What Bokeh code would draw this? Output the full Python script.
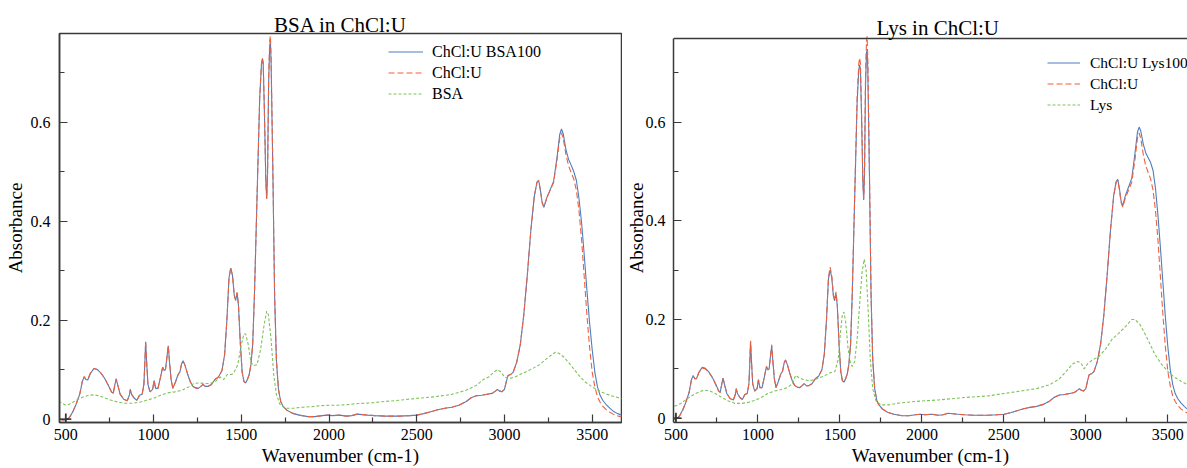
from bokeh.plotting import figure
from bokeh.layouts import row
from bokeh.models import FixedTicker, Legend, LegendItem, Range1d, Span
from bokeh.embed import file_html
from bokeh.resources import INLINE

# ---------------- data ----------------
wn_main = [460, 480, 500, 520, 540, 560, 580, 595, 605, 615, 625, 640, 660, 680, 700, 720, 740, 760, 770, 780,
           787, 795, 810, 830, 850, 862, 868, 875, 890, 905, 920, 935, 945, 950, 955, 960, 968, 980, 995, 1003,
           1012, 1025, 1040, 1052, 1060, 1068, 1078, 1084, 1090, 1100, 1110, 1125, 1140, 1150, 1160, 1168, 1180, 1195, 1210, 1225,
           1240, 1255, 1270, 1282, 1295, 1310, 1330, 1350, 1370, 1390, 1405, 1418, 1430, 1440, 1450, 1460, 1468, 1476, 1484, 1495,
           1505, 1515, 1525, 1535, 1545, 1555, 1565, 1575, 1590, 1605, 1615, 1620, 1625, 1632, 1640, 1645, 1650, 1656, 1662, 1666,
           1670, 1680, 1690, 1700, 1712, 1725, 1740, 1760, 1790, 1830, 1880, 1920, 1960, 1990, 2020, 2060, 2100, 2130, 2160, 2190,
           2220, 2260, 2320, 2400, 2460, 2500, 2540, 2580, 2620, 2660, 2700, 2740, 2780, 2810, 2840, 2870, 2900, 2930, 2950, 2960,
           2970, 2985, 3000, 3010, 3020, 3035, 3050, 3070, 3090, 3110, 3130, 3150, 3170, 3185, 3195, 3205, 3215, 3225, 3240, 3260,
           3280, 3300, 3315, 3325, 3335, 3350, 3365, 3380, 3395, 3410, 3425, 3440, 3455, 3470, 3485, 3500, 3515, 3530, 3545, 3560,
           3580, 3600, 3620, 3640, 3660, 3680, 3700]

chclu = [0.001, -0.002, -0.002, 0.003, 0.015, 0.032, 0.052, 0.078, 0.086, 0.080, 0.080, 0.093, 0.102, 0.100, 0.093, 0.083, 0.070, 0.055, 0.052, 0.070,
         0.081, 0.070, 0.050, 0.040, 0.037, 0.048, 0.060, 0.050, 0.042, 0.038, 0.048, 0.050, 0.070, 0.110, 0.157, 0.120, 0.070, 0.055, 0.060, 0.078,
         0.062, 0.062, 0.085, 0.105, 0.098, 0.100, 0.130, 0.149, 0.120, 0.080, 0.062, 0.075, 0.090, 0.095, 0.112, 0.118, 0.108, 0.090, 0.075, 0.066,
         0.063, 0.062, 0.066, 0.070, 0.066, 0.066, 0.070, 0.080, 0.085, 0.098, 0.130, 0.200, 0.285, 0.306, 0.290, 0.250, 0.240, 0.256, 0.230, 0.150,
         0.095, 0.076, 0.073, 0.080, 0.090, 0.110, 0.150, 0.250, 0.450, 0.650, 0.718, 0.730, 0.720, 0.620, 0.480, 0.445, 0.500, 0.690, 0.765, 0.774,
         0.730, 0.505, 0.250, 0.120, 0.060, 0.035, 0.025, 0.018, 0.012, 0.008, 0.005, 0.005, 0.007, 0.008, 0.007, 0.008, 0.006, 0.007, 0.010, 0.009,
         0.008, 0.007, 0.006, 0.006, 0.007, 0.008, 0.011, 0.015, 0.019, 0.022, 0.024, 0.028, 0.035, 0.043, 0.047, 0.048, 0.050, 0.052, 0.057, 0.060,
         0.057, 0.055, 0.060, 0.075, 0.088, 0.090, 0.095, 0.115, 0.150, 0.210, 0.290, 0.380, 0.450, 0.478, 0.482, 0.462, 0.437, 0.428, 0.445, 0.462,
         0.478, 0.525, 0.568, 0.578, 0.567, 0.535, 0.512, 0.498, 0.485, 0.462, 0.420, 0.360, 0.285, 0.210, 0.145, 0.095, 0.065, 0.045, 0.034, 0.026,
         0.019, 0.014, 0.010, 0.007, 0.005, 0.004, 0.003]

bsa_mix = [0.001, -0.002, -0.002, 0.003, 0.015, 0.031, 0.051, 0.077, 0.085, 0.080, 0.079, 0.092, 0.102, 0.100, 0.093, 0.083, 0.070, 0.055, 0.052, 0.070,
           0.081, 0.070, 0.050, 0.040, 0.037, 0.048, 0.060, 0.050, 0.042, 0.038, 0.048, 0.050, 0.070, 0.110, 0.156, 0.120, 0.070, 0.055, 0.060, 0.078,
           0.062, 0.062, 0.085, 0.105, 0.098, 0.100, 0.130, 0.148, 0.120, 0.080, 0.062, 0.075, 0.090, 0.095, 0.112, 0.118, 0.108, 0.090, 0.075, 0.066,
           0.063, 0.062, 0.066, 0.070, 0.066, 0.066, 0.070, 0.080, 0.085, 0.098, 0.130, 0.200, 0.285, 0.305, 0.290, 0.250, 0.240, 0.255, 0.230, 0.150,
           0.095, 0.076, 0.073, 0.080, 0.090, 0.110, 0.150, 0.250, 0.450, 0.648, 0.715, 0.728, 0.718, 0.618, 0.480, 0.445, 0.500, 0.680, 0.755, 0.762,
           0.720, 0.500, 0.250, 0.120, 0.060, 0.035, 0.025, 0.018, 0.012, 0.008, 0.005, 0.005, 0.007, 0.008, 0.007, 0.008, 0.006, 0.007, 0.010, 0.009,
           0.008, 0.007, 0.006, 0.006, 0.007, 0.008, 0.011, 0.015, 0.019, 0.022, 0.024, 0.028, 0.035, 0.043, 0.047, 0.048, 0.050, 0.052, 0.057, 0.060,
           0.057, 0.055, 0.060, 0.075, 0.088, 0.090, 0.095, 0.115, 0.150, 0.210, 0.290, 0.380, 0.450, 0.478, 0.482, 0.462, 0.437, 0.428, 0.446, 0.463,
           0.480, 0.530, 0.575, 0.586, 0.576, 0.545, 0.525, 0.513, 0.500, 0.482, 0.445, 0.395, 0.330, 0.260, 0.195, 0.140, 0.095, 0.065, 0.048, 0.038,
           0.029, 0.022, 0.016, 0.012, 0.009, 0.007, 0.006]

lys_mix = [0.002, -0.001, -0.002, 0.004, 0.016, 0.032, 0.052, 0.079, 0.086, 0.080, 0.080, 0.093, 0.103, 0.101, 0.094, 0.084, 0.071, 0.056, 0.053, 0.070,
           0.081, 0.070, 0.050, 0.040, 0.037, 0.048, 0.060, 0.050, 0.042, 0.038, 0.048, 0.050, 0.070, 0.110, 0.156, 0.120, 0.070, 0.055, 0.060, 0.078,
           0.062, 0.062, 0.085, 0.105, 0.098, 0.100, 0.130, 0.146, 0.120, 0.080, 0.062, 0.075, 0.090, 0.095, 0.112, 0.118, 0.108, 0.090, 0.075, 0.066,
           0.063, 0.062, 0.066, 0.070, 0.066, 0.066, 0.070, 0.080, 0.085, 0.098, 0.130, 0.198, 0.282, 0.300, 0.286, 0.248, 0.238, 0.253, 0.228, 0.150,
           0.095, 0.076, 0.073, 0.080, 0.090, 0.110, 0.150, 0.248, 0.445, 0.640, 0.705, 0.716, 0.708, 0.612, 0.478, 0.442, 0.495, 0.670, 0.740, 0.748,
           0.708, 0.495, 0.248, 0.120, 0.060, 0.036, 0.026, 0.019, 0.012, 0.008, 0.005, 0.005, 0.007, 0.008, 0.007, 0.008, 0.006, 0.007, 0.010, 0.009,
           0.008, 0.007, 0.006, 0.006, 0.007, 0.008, 0.011, 0.015, 0.019, 0.022, 0.024, 0.028, 0.035, 0.043, 0.047, 0.048, 0.050, 0.052, 0.057, 0.060,
           0.057, 0.055, 0.060, 0.075, 0.088, 0.090, 0.095, 0.115, 0.150, 0.210, 0.290, 0.380, 0.452, 0.480, 0.484, 0.465, 0.440, 0.430, 0.450, 0.468,
           0.486, 0.538, 0.580, 0.590, 0.582, 0.556, 0.538, 0.528, 0.518, 0.502, 0.465, 0.410, 0.345, 0.275, 0.205, 0.145, 0.098, 0.068, 0.050, 0.040,
           0.031, 0.024, 0.018, 0.014, 0.011, 0.009, 0.008]

wn_bsa = [460, 480, 500, 520, 545, 570, 600, 630, 660, 690, 720, 760, 800, 840, 880, 920, 960, 1000, 1040, 1080,
          1120, 1160, 1200, 1230, 1260, 1290, 1320, 1350, 1380, 1400, 1420, 1445, 1460, 1480, 1500, 1515, 1525, 1540, 1555, 1570,
          1590, 1610, 1630, 1645, 1655, 1670, 1685, 1700, 1720, 1750, 1800, 1850, 1900, 1950, 2000, 2050, 2100, 2150, 2200, 2250,
          2300, 2400, 2500, 2600, 2700, 2780, 2840, 2880, 2910, 2940, 2960, 2980, 3000, 3030, 3060, 3100, 3150, 3200, 3250, 3290,
          3310, 3340, 3380, 3420, 3460, 3500, 3550, 3600, 3700]
bsa = [0.036, 0.032, 0.028, 0.030, 0.035, 0.040, 0.045, 0.048, 0.049, 0.047, 0.043, 0.038, 0.034, 0.032, 0.032, 0.034, 0.038, 0.042, 0.048, 0.053,
       0.055, 0.058, 0.065, 0.072, 0.073, 0.072, 0.072, 0.075, 0.085, 0.080, 0.090, 0.090, 0.095, 0.110, 0.150, 0.172, 0.172, 0.150, 0.115, 0.108,
       0.110, 0.140, 0.190, 0.218, 0.210, 0.160, 0.090, 0.050, 0.030, 0.022, 0.022, 0.024, 0.025, 0.027, 0.028, 0.028, 0.029, 0.031, 0.032, 0.033,
       0.035, 0.038, 0.042, 0.045, 0.050, 0.058, 0.068, 0.080, 0.085, 0.095, 0.100, 0.095, 0.085, 0.082, 0.085, 0.092, 0.100, 0.110, 0.125, 0.135,
       0.133, 0.125, 0.108, 0.090, 0.075, 0.065, 0.055, 0.048, 0.038]

wn_lys = [460, 485, 500, 530, 570, 620, 670, 700, 740, 780, 820, 860, 900, 940, 980, 1020, 1060, 1100, 1140, 1180,
          1210, 1230, 1250, 1280, 1320, 1360, 1400, 1440, 1470, 1490, 1505, 1515, 1525, 1535, 1550, 1565, 1575, 1590, 1605, 1620,
          1635, 1648, 1660, 1672, 1685, 1700, 1720, 1750, 1800, 1850, 1900, 2000, 2100, 2200, 2300, 2400, 2500, 2600, 2700, 2780,
          2840, 2880, 2920, 2950, 2970, 2990, 3010, 3040, 3080, 3120, 3160, 3200, 3240, 3280, 3300, 3330, 3370, 3420, 3460, 3500,
          3540, 3580, 3620, 3700]
lys = [0.026, 0.025, 0.025, 0.030, 0.040, 0.050, 0.057, 0.056, 0.050, 0.042, 0.035, 0.030, 0.030, 0.032, 0.036, 0.042, 0.050, 0.055, 0.058, 0.062,
       0.070, 0.087, 0.082, 0.078, 0.076, 0.080, 0.085, 0.092, 0.095, 0.120, 0.180, 0.210, 0.215, 0.195, 0.140, 0.110, 0.105, 0.115, 0.160, 0.230,
       0.295, 0.322, 0.300, 0.220, 0.120, 0.060, 0.035, 0.027, 0.027, 0.030, 0.032, 0.035, 0.037, 0.040, 0.043, 0.045, 0.050, 0.055, 0.060, 0.068,
       0.080, 0.095, 0.110, 0.115, 0.112, 0.100, 0.110, 0.118, 0.125, 0.140, 0.160, 0.172, 0.185, 0.200, 0.200, 0.190, 0.165, 0.130, 0.110, 0.095,
       0.083, 0.075, 0.068, 0.058]

marker_x = [500]
marker_y = [0.0]

x_ticks = [500, 1000, 1500, 2000, 2500, 3000, 3500]
x_minor = [750, 1250, 1750, 2250, 2750, 3250]
y_ticks = [0, 0.2, 0.4, 0.6]
y_minor = [0.1, 0.3, 0.5, 0.7]
y_labels = {0: "0", 0.2: "0.2", 0.4: "0.4", 0.6: "0.6"}
lys_y_min = -0.0087
lys_panel_top = 0.7694  # upper edge of the right-hand frame, in absorbance units

assert len(wn_main) == len(chclu) == len(bsa_mix) == len(lys_mix)
assert len(wn_bsa) == len(bsa) and len(wn_lys) == len(lys)

# ---------------- styling ----------------
FONT = "Liberation Serif"
BLUE = "#4d7dbf"
RED = "#f0603a"
GREEN = "#7fc35a"
AX = "#3a3a3a"


def style_axes(p, tick_standoff, label_standoff):
    for ax in (p.xaxis[0], p.yaxis[0]):
        ax.axis_line_color = AX
        ax.axis_line_width = 1.5
        ax.major_tick_line_color = AX
        ax.minor_tick_line_color = AX
        ax.major_tick_line_width = 1.2
        ax.minor_tick_line_width = 1.2
        ax.major_tick_in = 8
        ax.major_tick_out = 0
        ax.minor_tick_in = 5
        ax.minor_tick_out = 0
        ax.major_label_text_font = FONT
        ax.major_label_text_font_size = "16px"
        ax.major_label_text_color = "black"
        ax.axis_label_text_font = FONT
        ax.axis_label_text_font_size = "19px"
        ax.axis_label_text_font_style = "normal"
        ax.axis_label_text_color = "black"
    p.xaxis.ticker = FixedTicker(ticks=x_ticks, minor_ticks=x_minor)
    p.yaxis.ticker = FixedTicker(ticks=y_ticks, minor_ticks=y_minor)
    p.yaxis.major_label_overrides = y_labels
    p.xaxis.axis_label = "Wavenumber (cm-1)"
    p.yaxis.axis_label = "Absorbance"
    p.xaxis.major_label_standoff = 6
    p.yaxis.major_label_standoff = tick_standoff
    p.xaxis.axis_label_standoff = 2
    p.yaxis.axis_label_standoff = label_standoff
    p.xgrid.grid_line_color = None
    p.ygrid.grid_line_color = None


def panel(title, width, min_left, min_right, xr, yr, mix, mix_label, pwn, pvals, plabel,
          loc, gw, standoff, legend_size, tick_standoff, label_standoff):
    p = figure(width=width, height=468, x_range=Range1d(*xr), y_range=Range1d(*yr),
               min_border_left=min_left, min_border_right=min_right, min_border_top=33,
               min_border_bottom=46, output_backend="svg", toolbar_location=None, title=title)
    p.background_fill_color = "white"
    p.border_fill_color = "white"
    p.title.text_font = FONT
    p.title.text_font_size = "21px"
    p.title.text_font_style = "normal"
    p.title.text_color = "black"
    style_axes(p, tick_standoff, label_standoff)
    r1 = p.line(wn_main, mix, line_color=BLUE, line_width=1.1)
    r2 = p.line(wn_main, chclu, line_color=RED, line_width=1.1, line_dash="6 3")
    r3 = p.line(pwn, pvals, line_color=GREEN, line_width=1.1, line_dash="3 2")
    p.scatter(marker_x, marker_y, marker="cross", size=11, line_color="black", line_width=1.4)
    lg = Legend(items=[LegendItem(label=mix_label, renderers=[r1]),
                       LegendItem(label="ChCl:U", renderers=[r2]),
                       LegendItem(label=plabel, renderers=[r3])],
                location=loc, padding=0, margin=0, spacing=0,
                label_height=21, glyph_height=21, glyph_width=gw, label_standoff=standoff,
                border_line_color=None, background_fill_alpha=0,
                label_text_font=FONT, label_text_font_size=legend_size, label_text_color="black")
    p.add_layout(lg)
    return p


p1 = panel("BSA in ChCl:U", 622, 59, 1, (464, 3667), (-0.0069, 0.7789),
           bsa_mix, "ChCl:U BSA100", wn_bsa, bsa, "BSA", (329, 318), 35, 9, "16px", 9, 2)
p1.outline_line_color = AX
p1.outline_line_width = 1.5
p1.outline_line_alpha = 1.0
p1.title.align = "center"
p1.title.standoff = -6

p2 = panel("Lys in ChCl:U", 565, 48, 0, (485, 3620), (lys_y_min, 0.7796),
           lys_mix, "ChCl:U Lys100", wn_lys, lys, "Lys", (374, 307), 33, 10, "15.5px", 8, -4)
p2.outline_line_color = None
p2.yaxis.bounds = (lys_y_min, lys_panel_top)
p2.title.align = "left"
p2.title.offset = 203
p2.title.standoff = -12
p2.add_layout(Span(location=lys_panel_top, dimension="width", line_color=AX, line_width=1.5))

layout = row(p1, p2)
open("out.html", "w").write(file_html(layout, INLINE))
